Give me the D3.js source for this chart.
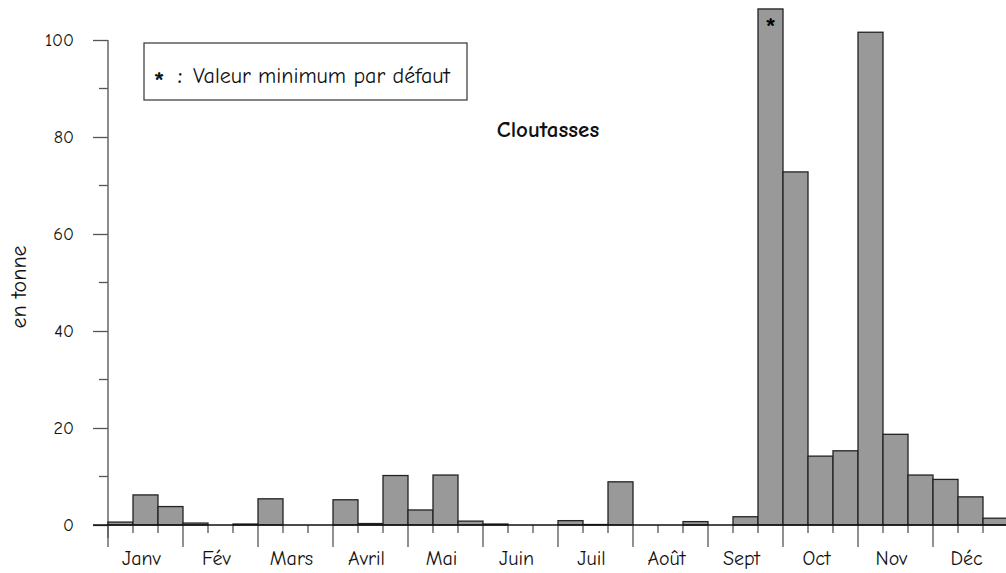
<!DOCTYPE html>
<html><head><meta charset="utf-8">
<script src="https://cdn.jsdelivr.net/npm/d3@7"></script>
<style>body{margin:0;background:#fff}svg{display:block}text{font-family:"Comic Sans MS","Comic Neue","DejaVu Sans",sans-serif}</style>
</head><body><svg id="c" width="1006" height="573"></svg>
<script>
const months = ["Janv","Fév","Mars","Avril","Mai","Juin","Juil","Août","Sept","Oct","Nov","Déc"];
// three 10-day periods per month (décades)
const values = [
  0.6, 6.2, 3.8,
  0.4, 0, 0.2,
  5.4, 0, 0,
  5.2, 0.3, 10.2,
  3.1, 10.3, 0.8,
  0.2, 0, 0,
  0.9, 0.1, 8.9,
  0, 0, 0.7,
  0, 1.7, 106.4,
  72.8, 14.2, 15.3,
  101.6, 18.7, 10.3,
  9.4, 5.8, 1.4
];
const starred = [26];
const yTicks = [0, 20, 40, 60, 80, 100];
const yMinor = [10, 30, 50, 70, 90];
const title = "Cloutasses";
const legendStar = "*";
const legendColon = ":";
const legendText = "Valeur minimum par défaut";
const yLabel = "en tonne";

const svg = d3.select("#c");
const x = d3.scaleBand().domain(d3.range(values.length)).range([108, 1008]).padding(0);
const y = d3.scaleLinear().domain([0, 100]).range([525, 40]);
const bw = x.bandwidth();

// y axis
const ya = svg.append("g").attr("transform", "translate(108,0)")
  .call(d3.axisLeft(y).tickValues(yTicks).tickSize(15).tickPadding(19).tickFormat(d3.format("d")));
ya.select(".domain").remove();
ya.selectAll(".tick line").attr("stroke", "#555").attr("stroke-width", 1.3);
ya.selectAll(".tick text").attr("font-size", 18).attr("fill", "#111");
svg.append("g").selectAll("line").data(yMinor).join("line")
  .attr("x1", 99).attr("x2", 108).attr("y1", d => y(d)).attr("y2", d => y(d))
  .attr("stroke", "#555").attr("stroke-width", 1.3);
svg.append("line").attr("x1", 108).attr("x2", 108).attr("y1", y(100)).attr("y2", 538)
  .attr("stroke", "#666").attr("stroke-width", 1.5);

// bars
svg.append("g").selectAll("rect").data(values).join("rect")
  .attr("x", (d, i) => x(i)).attr("width", bw)
  .attr("y", d => y(d)).attr("height", d => y(0) - y(d))
  .attr("fill", "#999999").attr("stroke", "#222").attr("stroke-width", 1.3);

// x axis ticks
svg.append("g").selectAll("line").data(d3.range(values.length + 1)).join("line")
  .attr("x1", i => 108 + i * bw).attr("x2", i => 108 + i * bw)
  .attr("y1", 525).attr("y2", i => i % 3 === 0 ? 547 : 533)
  .attr("stroke", "#555").attr("stroke-width", 1.3);
svg.append("line").attr("x1", 93).attr("x2", 1006).attr("y1", y(0)).attr("y2", y(0))
  .attr("stroke", "#111").attr("stroke-width", 1.5);

svg.append("g").selectAll("text").data(months).join("text")
  .attr("x", (d, i) => x(i * 3) + bw * 1.5 - 4).attr("y", 565)
  .attr("text-anchor", "middle").attr("font-size", 20).attr("fill", "#111").text(d => d);

// stars
svg.append("g").selectAll("text").data(starred).join("text")
  .attr("x", i => x(i) + bw / 2).attr("y", i => y(values[i]) + 28)
  .attr("text-anchor", "middle").attr("font-size", 28).attr("font-weight", "bold").text("*");

// legend
svg.append("rect").attr("x", 144).attr("y", 43).attr("width", 323).attr("height", 57)
  .attr("fill", "#fff").attr("stroke", "#333").attr("stroke-width", 1.2);
svg.append("text").attr("x", 159).attr("y", 91).attr("text-anchor", "middle").attr("font-size", 28)
  .attr("font-weight", "bold").attr("fill", "#111").text(legendStar);
svg.append("text").attr("x", 180).attr("y", 83).attr("text-anchor", "middle").attr("font-size", 22)
  .attr("font-weight", "bold").attr("fill", "#111").text(legendColon);
svg.append("text").attr("x", 193).attr("y", 83).attr("font-size", 22).attr("fill", "#111").text(legendText);

svg.append("text").attr("x", 548).attr("y", 137).attr("text-anchor", "middle")
  .attr("font-size", 23).attr("font-weight", "bold").attr("fill", "#111").text(title);

svg.append("text").attr("transform", "translate(26,287) rotate(-90)").attr("text-anchor", "middle")
  .attr("font-size", 22).attr("fill", "#111").text(yLabel);
</script></body></html>
